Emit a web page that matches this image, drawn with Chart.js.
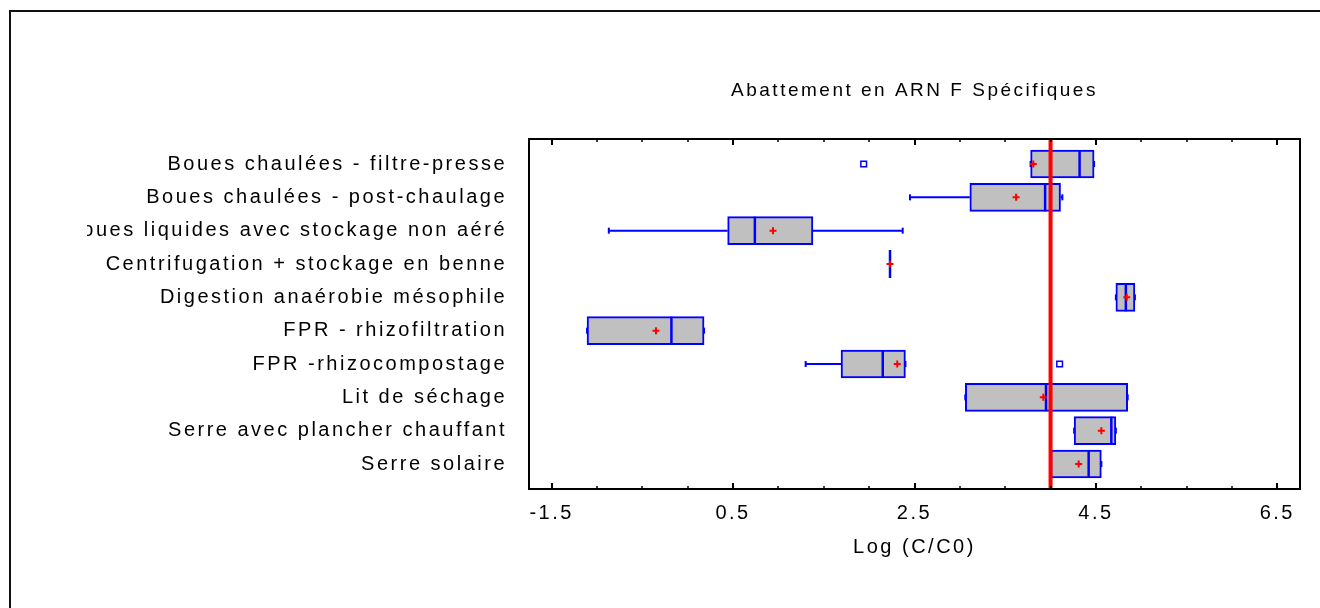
<!DOCTYPE html>
<html><head><meta charset="utf-8">
<script src="https://cdn.jsdelivr.net/npm/chart.js@4.4.1/dist/chart.umd.min.js"></script>
<style>
html,body{margin:0;padding:0;background:#fff;overflow:hidden;width:1320px;height:608px;}
#frame{position:absolute;left:9px;top:10px;width:1400px;height:700px;border-left:2px solid #111;border-top:2px solid #111;}
#wrap{position:absolute;left:87px;top:0;width:1233px;height:608px;}
</style></head><body>
<div id="frame"></div>
<div id="wrap"><canvas id="c" width="1233" height="608"></canvas></div>
<script>
const categories = [
  "Boues chaulées - filtre-presse",
  "Boues chaulées - post-chaulage",
  "Boues liquides avec stockage non aéré",
  "Centrifugation + stockage en benne",
  "Digestion anaérobie mésophile",
  "FPR - rhizofiltration",
  "FPR -rhizocompostage",
  "Lit de séchage",
  "Serre avec plancher chauffant",
  "Serre solaire"
];
const whiskerLow  = [3.78, 2.45, -0.87, 2.23, 4.72, -1.11, 1.30, 3.06, 4.26, 4.00];
const q1Values    = [3.78, 3.11,  0.44, 2.23, 4.72, -1.11, 1.69, 3.06, 4.26, 4.00];
const medianValues= [4.32, 3.94,  0.74, 2.23, 4.83, -0.18, 2.15, 3.95, 4.67, 4.42];
const q3Values    = [4.48, 4.11,  1.38, 2.23, 4.93,  0.18, 2.40, 4.85, 4.72, 4.56];
const whiskerHigh = [4.48, 4.13,  2.37, 2.23, 4.93,  0.18, 2.40, 4.85, 4.72, 4.56];
const meanValues  = [3.81, 3.62,  0.94, 2.23, 4.84, -0.35, 2.31, 3.92, 4.56, 4.31];
const outlierRows   = [0, 6];
const outlierValues = [1.94, 4.10];
const referenceValue = 4.0;
const xTickValues = [-1.5, 0.5, 2.5, 4.5, 6.5];
const xMinorStep = 0.5;
const xMin = -1.75, xMax = 6.75;
const chartTitle = "Abattement en ARN F Spécifiques";
const xAxisTitle = "Log (C/C0)";

const FAMILY = "'Liberation Sans', Arial, sans-serif";
const BLUE = '#0000ff', RED = '#ff0000';
const LS = '2.5px';
const rowIdx = categories.map((_, i) => i);
const yMin = -0.75, yMax = categories.length - 0.25;

const whiskerData = [];
rowIdx.forEach(i => {
  whiskerData.push({x: whiskerLow[i], y: i}, {x: q1Values[i], y: i}, {x: null, y: null});
  whiskerData.push({x: q3Values[i], y: i}, {x: whiskerHigh[i], y: i}, {x: null, y: null});
});
const capData = [];
rowIdx.forEach(i => { capData.push({x: whiskerLow[i], y: i}, {x: whiskerHigh[i], y: i}); });

const spacingPlugin = {
  id: 'spacing',
  afterInit(c) { c.ctx.letterSpacing = LS; },
  beforeUpdate(c) { c.ctx.letterSpacing = LS; },
  beforeLayout(c) { c.ctx.letterSpacing = LS; },
  beforeDraw(c) { c.ctx.letterSpacing = LS; }
};
const framePlugin = {
  id: 'plotFrame',
  afterDraw(c) {
    const {ctx, chartArea: a} = c;
    const xs = c.scales.x;
    ctx.save();
    ctx.strokeStyle = '#000';
    ctx.lineWidth = 2;
    ctx.strokeRect(a.left, a.top, a.right - a.left, a.bottom - a.top);
    const first = xTickValues[0], last = xTickValues[xTickValues.length - 1];
    const n = Math.round((last - first) / xMinorStep);
    for (let k = 0; k <= n; k++) {
      const v = first + k * xMinorStep;
      const major = xTickValues.some(t => Math.abs(t - v) < 1e-9);
      const len = major ? 6 : 3;
      const px = Math.round(xs.getPixelForValue(v));
      ctx.lineWidth = major ? 2 : 1.5;
      ctx.beginPath();
      ctx.moveTo(px, a.top); ctx.lineTo(px, a.top + len);
      ctx.moveTo(px, a.bottom); ctx.lineTo(px, a.bottom - len);
      ctx.stroke();
    }
    ctx.restore();
  }
};

new Chart(document.getElementById('c'), {
  type: 'scatter',
  data: {
    datasets: [
      {type: 'scatter', label: 'ref', data: [{x: referenceValue, y: yMin}, {x: referenceValue, y: yMax}],
       showLine: true, borderColor: RED, borderWidth: 4, pointRadius: 0, order: 0, clip: 4},
      {type: 'scatter', label: 'mean', data: rowIdx.map(i => ({x: meanValues[i], y: i})),
       pointStyle: 'cross', pointRadius: 3.5, pointBorderColor: RED, pointBorderWidth: 2, order: 1},
      {type: 'scatter', label: 'median', data: rowIdx.map(i => ({x: medianValues[i], y: i})),
       pointStyle: 'line', pointRotation: 90, pointRadius: 14, pointBorderColor: BLUE, pointBorderWidth: 2.5, order: 2},
      {type: 'scatter', label: 'outliers', data: outlierRows.map((r, k) => ({x: outlierValues[k], y: r})),
       pointStyle: 'rect', pointRadius: 4, pointBorderColor: BLUE, pointBackgroundColor: '#fff', pointBorderWidth: 1.5, order: 3},
      {type: 'scatter', label: 'caps', data: capData,
       pointStyle: 'line', pointRotation: 90, pointRadius: 3, pointBorderColor: BLUE, pointBorderWidth: 2, order: 4},
      {type: 'scatter', label: 'whiskers', data: whiskerData, showLine: true, spanGaps: false,
       borderColor: BLUE, borderWidth: 2, pointRadius: 0, order: 5},
      {type: 'bar', label: 'box', indexAxis: 'y', data: rowIdx.map(i => ({x: [q1Values[i], q3Values[i]], y: i})),
       backgroundColor: '#c0c0c0', borderColor: BLUE, borderWidth: 2, borderSkipped: false,
       barThickness: 28, grouped: false, order: 6}
    ]
  },
  options: {
    responsive: false,
    animation: false,
    events: [],
    layout: {padding: {left: 0, right: 20, top: 0, bottom: 0}},
    plugins: {
      legend: {display: false},
      tooltip: {enabled: false},
      title: {display: true, text: chartTitle, color: '#000', fullSize: false,
              font: {family: FAMILY, size: 19, weight: 'normal'}, padding: {top: 79.6, bottom: 36.6}}
    },
    scales: {
      x: {
        type: 'linear', min: xMin, max: xMax, offset: false, beginAtZero: false,
        afterBuildTicks: s => { s.ticks = xTickValues.map(v => ({value: v})); },
        afterFit: s => { s.height = 119; },
        ticks: {callback: v => Number(v).toFixed(1), color: '#000', font: {family: FAMILY, size: 20},
                padding: 12, maxRotation: 0, autoSkip: false},
        grid: {display: false, drawTicks: false, offset: false},
        border: {display: false},
        title: {display: true, text: xAxisTitle, color: '#000', font: {family: FAMILY, size: 20},
                padding: {top: 0, bottom: 49}}
      },
      y: {
        type: 'linear', reverse: true, min: yMin, max: yMax, offset: false, beginAtZero: false,
        afterBuildTicks: s => { s.ticks = rowIdx.map(i => ({value: i})); },
        afterFit: s => { s.width = 442; },
        ticks: {callback: v => categories[v], color: '#000', font: {family: FAMILY, size: 20},
                padding: 22, autoSkip: false},
        grid: {display: false, drawTicks: false, offset: false},
        border: {display: false}
      }
    }
  },
  plugins: [spacingPlugin, framePlugin]
});
</script>
</body></html>
